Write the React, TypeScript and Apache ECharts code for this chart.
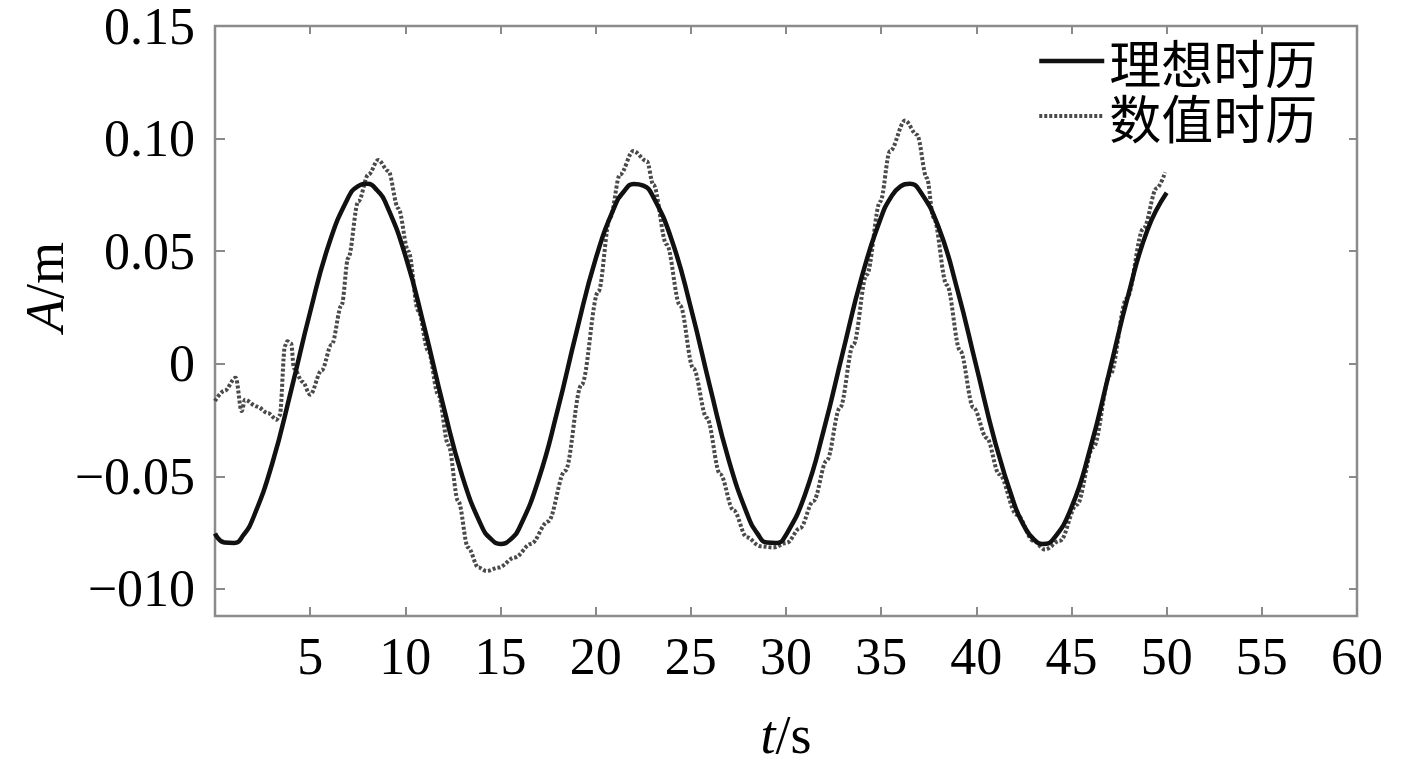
import React, { useEffect, useRef } from "react";
import * as echarts from "echarts";

// ---------- data ----------
const seriesNames = ["理想时历", "数值时历"];

const idealT = [
  0, 0.5, 1, 1.5, 2, 3, 4, 5, 6, 7, 7.5, 8, 8.5, 9, 10, 11, 12, 13, 14, 14.5, 15, 15.5, 16, 17,
  18, 19, 20, 21, 21.5, 22, 22.5, 23, 24, 25, 26, 27, 28, 28.5, 29, 29.5, 30, 31, 32, 33, 34, 35,
  35.5, 36, 36.5, 37, 38, 39, 40, 41, 42, 42.5, 43, 43.5, 44, 45, 46, 47, 48, 49, 50,
];
const idealA = [
  -0.0754, -0.0794, -0.0796, -0.076, -0.0686, -0.0445, -0.0118, 0.023, 0.0535, 0.0738, 0.0788,
  0.0799, 0.0772, 0.0708, 0.0481, 0.0162, -0.0188, -0.0501, -0.072, -0.0778, -0.08, -0.0782,
  -0.0727, -0.0514, -0.0206, 0.0144, 0.0466, 0.0699, 0.0767, 0.0798, 0.0791, 0.0745, 0.0549,
  0.0249, -0.01, -0.043, -0.0676, -0.0754, -0.0794, -0.0796, -0.076, -0.058, -0.0289, 0.0056,
  0.0391, 0.0651, 0.0738, 0.0787, 0.0799, 0.0772, 0.061, 0.033, -0.0011, -0.0352, -0.0625,
  -0.0719, -0.0778, -0.08, -0.0783, -0.0638, -0.0371, -0.0032, 0.0311, 0.0596, 0.0759,
];

const numT = [
  0, 0.5, 1.09, 1.4, 1.58, 2.2, 2.8, 3.24, 3.4, 3.68, 3.8, 4.0, 4.15, 4.6, 5.0, 5.6, 6.13, 6.65,
  7.0, 7.53, 8.06, 8.58, 9.1, 9.63, 10.16, 10.68, 11.2, 11.73, 12.26, 12.78, 13.3, 13.84, 14.27,
  14.9, 15.76, 16.6, 17.5, 18.4, 19.26, 20.14, 20.76, 21.28, 21.98, 22.69, 23.03, 23.73, 24.43,
  25.13, 25.84, 26.54, 27.24, 27.94, 28.64, 29.34, 30.04, 30.74, 31.44, 32.14, 32.84, 33.54,
  34.24, 34.95, 35.47, 36.26, 36.88, 37.4, 37.75, 38.45, 39.15, 39.85, 40.55, 41.2, 42.13, 43.0,
  43.6, 44.4, 45.28, 46.15, 47.03, 47.9, 48.78, 49.48, 49.92,
];
const numA = [
  -0.0165, -0.012, -0.0062, -0.021, -0.016, -0.019, -0.022, -0.0248, -0.023, 0.008, 0.01, 0.009,
  -0.002, -0.008, -0.0137, -0.003, 0.0085, 0.026, 0.047, 0.072, 0.084, 0.0905, 0.0856, 0.069,
  0.05, 0.0235, 0.0058, -0.0137, -0.036, -0.061, -0.0816, -0.0905, -0.092, -0.0905, -0.086,
  -0.08, -0.07, -0.0475, -0.0093, 0.032, 0.065, 0.084, 0.0945, 0.09, 0.0795, 0.053, 0.026,
  -0.002, -0.024, -0.049, -0.065, -0.077, -0.081, -0.0816, -0.0795, -0.073, -0.061, -0.043,
  -0.0195, 0.0085, 0.0395, 0.072, 0.0945, 0.108, 0.1017, 0.0825, 0.065, 0.035, 0.0058, -0.0195,
  -0.033, -0.049, -0.067, -0.0786, -0.0825, -0.0786, -0.0626, -0.037, -0.0049, 0.029, 0.06,
  0.078, 0.085,
];

const yTickValues = [-0.1, -0.05, 0, 0.05, 0.1, 0.15];
const yTickLabels = ["−010", "−0.05", "0", "0.05", "0.10", "0.15"];
const xTickValues = [0, 5, 10, 15, 20, 25, 30, 35, 40, 45, 50, 55, 60];
const xTickLabels = ["", "5", "10", "15", "20", "25", "30", "35", "40", "45", "50", "55", "60"];

const SERIF = "'Liberation Serif', 'Times New Roman', serif";
const CJK = "'Noto Sans CJK SC', sans-serif";

const IDEAL_STYLE = { color: "#111111", width: 4.5, type: "solid" as const };
const NUM_STYLE = { color: "#4a4a4a", width: 4, type: [3, 2] };

export default function App() {
  const ref = useRef<HTMLDivElement>(null);

  useEffect(() => {
    if (!ref.current) return;
    const chart = echarts.init(ref.current, undefined, { renderer: "svg" });

    const yLabel = (v: number) => {
      let best = 0;
      for (let i = 0; i < yTickValues.length; i++) {
        if (Math.abs(yTickValues[i] - v) < Math.abs(yTickValues[best] - v)) best = i;
      }
      return yTickLabels[best];
    };
    const xLabel = (v: number) => {
      const i = xTickValues.indexOf(Math.round(v));
      return i >= 0 ? xTickLabels[i] : "";
    };

    const tickStyle = { color: "#8a8a8a", width: 2 };

    chart.setOption({
      animation: false,
      backgroundColor: "#ffffff",
      grid: {
        left: 215,
        top: 26,
        right: 58,
        bottom: 156,
        show: true,
        borderColor: "#8c8c8c",
        borderWidth: 2.5,
      },
      legend: {
        data: [
          { name: seriesNames[0], lineStyle: { ...IDEAL_STYLE } },
          { name: seriesNames[1], lineStyle: { ...NUM_STYLE } },
        ],
        orient: "vertical",
        left: 1032,
        top: 30,
        itemWidth: 65,
        itemHeight: 10,
        itemGap: 3,
        itemStyle: { opacity: 0 },
        textStyle: { fontSize: 52, fontFamily: CJK, color: "#000", lineHeight: 52 },
      },
      xAxis: [
        {
          type: "value",
          min: 0,
          max: 60,
          interval: 5,
          position: "bottom",
          axisLine: { show: false, onZero: false },
          splitLine: { show: false },
          axisTick: { show: true, inside: true, length: 9, lineStyle: tickStyle },
          axisLabel: {
            margin: 14,
            fontSize: 52,
            fontFamily: SERIF,
            color: "#000",
            formatter: xLabel,
          },
          name: "{i|t}/s",
          nameLocation: "middle",
          nameGap: 92,
          nameTextStyle: {
            fontSize: 54,
            fontFamily: SERIF,
            color: "#000",
            rich: { i: { fontStyle: "italic", fontSize: 54, fontFamily: SERIF, color: "#000" } },
          },
        },
        {
          type: "value",
          min: 0,
          max: 60,
          interval: 5,
          position: "top",
          axisLine: { show: false, onZero: false },
          splitLine: { show: false },
          axisTick: { show: true, inside: true, length: 8, lineStyle: tickStyle },
          axisLabel: { show: false },
        },
      ],
      yAxis: [
        {
          type: "value",
          min: -0.112,
          max: 0.15,
          position: "left",
          axisLine: { show: false, onZero: false },
          splitLine: { show: false },
          axisTick: {
            show: true,
            inside: true,
            length: 10,
            lineStyle: tickStyle,
            customValues: yTickValues,
          },
          axisLabel: {
            margin: 20,
            fontSize: 52,
            lineHeight: 44,
            fontFamily: SERIF,
            color: "#000",
            customValues: yTickValues,
            formatter: yLabel,
          },
        },
        {
          type: "value",
          min: -0.112,
          max: 0.15,
          position: "right",
          axisLine: { show: false, onZero: false },
          splitLine: { show: false },
          axisTick: {
            show: true,
            inside: true,
            length: 8,
            lineStyle: tickStyle,
            customValues: yTickValues,
          },
          axisLabel: { show: false, customValues: yTickValues },
        },
      ],
      graphic: [
        {
          type: "text",
          x: 45,
          y: 287,
          rotation: Math.PI / 2,
          style: {
            text: "{i|A}/m",
            fontSize: 54,
            fontFamily: SERIF,
            fill: "#000",
            align: "center",
            verticalAlign: "middle",
            rich: { i: { fontStyle: "italic", fontSize: 54, fontFamily: SERIF, fill: "#000" } },
          },
        },
      ],
      series: [
        {
          name: seriesNames[0],
          type: "line",
          xAxisIndex: 0,
          yAxisIndex: 0,
          data: idealT.map((t, i) => [t, idealA[i]]),
          smooth: true,
          symbol: "none",
          itemStyle: { color: IDEAL_STYLE.color },
          lineStyle: { ...IDEAL_STYLE },
          z: 3,
        },
        {
          name: seriesNames[1],
          type: "line",
          xAxisIndex: 0,
          yAxisIndex: 0,
          data: numT.map((t, i) => [t, numA[i]]),
          smooth: 0.35,
          smoothMonotone: "x",
          symbol: "none",
          itemStyle: { color: NUM_STYLE.color },
          lineStyle: { ...NUM_STYLE },
          z: 2,
        },
      ],
    });

    return () => chart.dispose();
  }, []);

  return (
    <div
      ref={ref}
      style={{ position: "fixed", left: 0, top: 0, width: 1415, height: 772, background: "#fff" }}
    />
  );
}
